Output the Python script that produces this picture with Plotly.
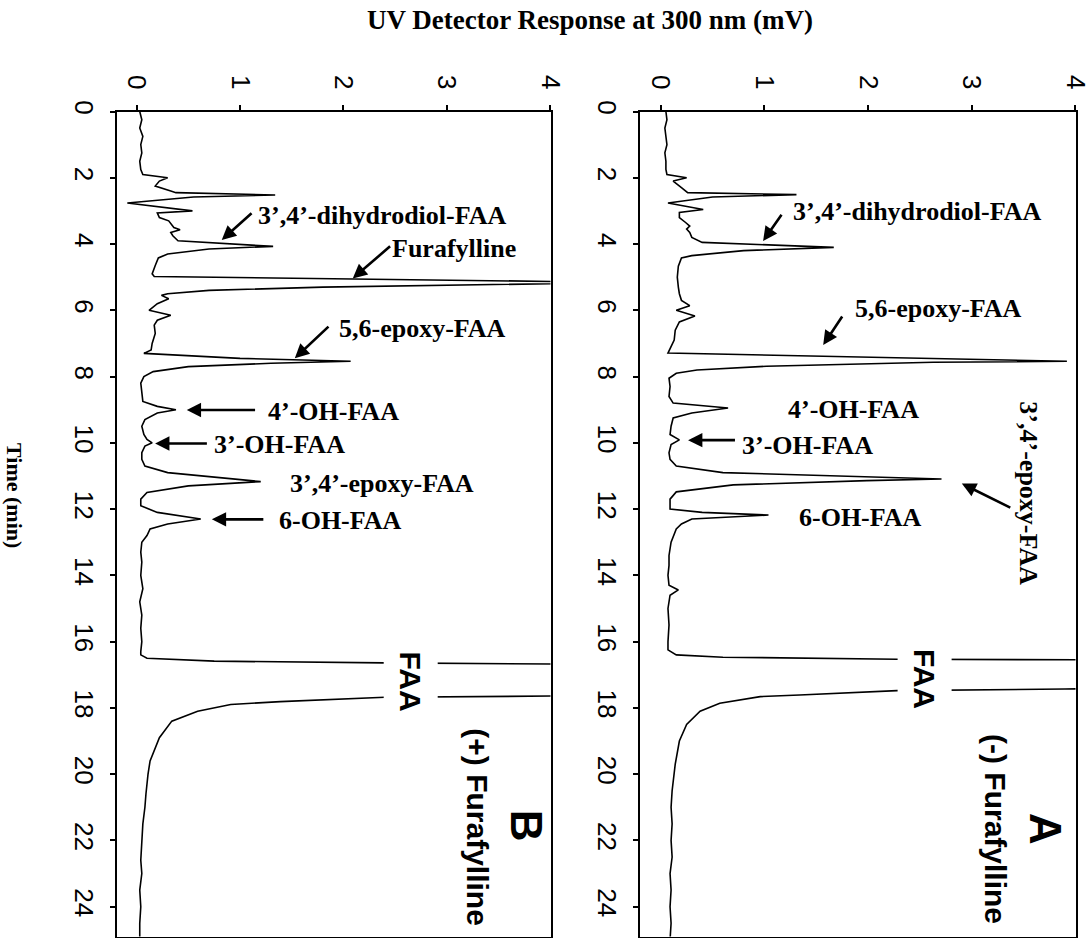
import plotly.graph_objects as go

# ---------------- data ----------------
# Panel B : (+) Furafylline  -- time (min) and UV response (mV)
time_b = [0.0, 0.25, 0.5, 0.75, 1.0, 1.25, 1.5, 1.75, 1.9, 2.0, 2.1, 2.25, 2.4, 2.45, 2.52, 2.58,
          2.76, 3.0, 3.06, 3.2, 3.3, 3.5, 3.57, 3.65, 3.75, 3.9, 4.07, 4.15, 4.3, 4.42, 4.65, 4.9,
          4.98, 5.16, 5.3, 5.4, 5.5, 5.55, 5.65, 5.8, 6.0, 6.15, 6.3, 6.45, 6.7, 7.0, 7.2, 7.3,
          7.45, 7.54, 7.6, 7.7, 7.85, 8.0, 8.2, 8.5, 8.75, 8.9, 9.0, 9.1, 9.3, 9.5, 9.75, 9.9,
          10.0, 10.1, 10.3, 10.5, 10.7, 10.9, 11.17, 11.3, 11.5, 11.7, 11.9, 12.1, 12.3, 12.45,
          12.6, 12.8, 13.0, 13.3, 13.6, 14.0, 14.4, 14.8, 15.2, 15.6, 16.0, 16.3, 16.4, 16.5,
          16.59, 16.64, 16.7, 17.1, 17.62, 17.68, 17.81, 17.9, 18.1, 18.4, 18.9, 19.6, 20.0,
          20.6, 21.0, 21.5, 22.0, 22.6, 23.0, 23.5, 24.0, 24.5, 25.0]
resp_b = [0.03, 0.05, 0.03, 0.06, 0.04, 0.05, 0.03, 0.04, 0.06, 0.30, 0.22, 0.18, 0.33, 0.38, 1.34, 0.55,
          -0.09, 0.54, 0.20, 0.22, 0.31, 0.36, 0.42, 0.33, 0.35, 0.40, 1.32, 0.70, 0.30, 0.21, 0.18, 0.15,
          0.17, 4.80, 1.80, 0.70, 0.30, 0.24, 0.31, 0.20, 0.12, 0.33, 0.20, 0.17, 0.18, 0.15, 0.14, 0.07,
          1.00, 2.07, 1.30, 0.50, 0.16, 0.07, 0.04, 0.05, 0.06, 0.20, 0.38, 0.20, 0.08, 0.05, 0.07, 0.10,
          0.15, 0.08, 0.05, 0.05, 0.08, 0.30, 1.20, 0.50, 0.10, 0.04, 0.04, 0.20, 0.62, 0.30,
          0.13, 0.10, 0.05, 0.04, 0.05, 0.04, 0.06, 0.03, 0.05, 0.04, 0.05, 0.04, 0.04, 0.10,
          0.75, 2.39, 5.00, 9.00, 5.00, 2.40, 1.39, 0.91, 0.59, 0.34, 0.22, 0.13, 0.11,
          0.09, 0.08, 0.06, 0.05, 0.04, 0.05, 0.03, 0.04, 0.03, 0.03]

# Panel A : (-) Furafylline
time_a = [0.0, 0.25, 0.5, 0.75, 1.0, 1.25, 1.5, 1.75, 1.9, 2.0, 2.1, 2.3, 2.45, 2.51, 2.58, 2.76,
          2.96, 3.05, 3.2, 3.35, 3.46, 3.55, 3.65, 3.8, 3.95, 4.1, 4.2, 4.35, 4.42, 4.67, 5.0, 5.3,
          5.5, 5.7, 5.86, 6.0, 6.17, 6.35, 6.6, 6.9, 7.1, 7.29, 7.54, 7.57, 7.69, 7.8, 7.9, 8.05,
          8.3, 8.6, 8.8, 8.95, 9.1, 9.25, 9.5, 9.75, 9.91, 10.05, 10.3, 10.5, 10.7, 10.9, 11.09,
          11.14, 11.27, 11.48, 11.7, 12.0, 12.1, 12.18, 12.3, 12.45, 12.6, 13.0, 13.4, 13.7, 14.0,
          14.3, 14.44, 14.6, 15.0, 15.5, 16.0, 16.25, 16.4, 16.47, 16.53, 16.56, 17.0, 17.4, 17.43,
          17.48, 17.61, 17.66, 17.86, 18.1, 18.5, 19.0, 19.7, 20.5, 21.0, 21.5, 22.0, 22.5, 23.0,
          23.5, 24.0, 24.5, 25.0]
resp_a = [0.05, 0.06, 0.04, 0.05, 0.06, 0.04, 0.05, 0.05, 0.06, 0.25, 0.12, 0.20, 0.26, 1.31, 0.50, 0.07,
          0.41, 0.18, 0.18, 0.24, 0.28, 0.25, 0.28, 0.30, 0.40, 1.67, 0.80, 0.30, 0.20, 0.17, 0.16, 0.17,
          0.18, 0.20, 0.28, 0.15, 0.33, 0.18, 0.14, 0.13, 0.10, 0.07, 3.92, 2.63, 1.02, 0.35, 0.15, 0.08,
          0.09, 0.08, 0.12, 0.65, 0.30, 0.12, 0.10, 0.09, 0.18, 0.10, 0.08, 0.09, 0.15, 0.60, 2.71,
          1.99, 0.70, 0.15, 0.09, 0.09, 0.40, 1.04, 0.30, 0.20, 0.15, 0.10, 0.08, 0.08, 0.07,
          0.08, 0.17, 0.09, 0.07, 0.08, 0.07, 0.07, 0.15, 0.60, 2.28, 5.00, 9.00, 4.60, 3.90,
          2.28, 1.34, 0.96, 0.57, 0.38, 0.25, 0.18, 0.14, 0.11, 0.10, 0.11, 0.10, 0.11, 0.09,
          0.10, 0.09, 0.10, 0.09]

time_ticks = [0, 2, 4, 6, 8, 10, 12, 14, 16, 18, 20, 22, 24]
resp_ticks = [0, 1, 2, 3, 4]

# peak labels: (text, x, y)
labels_b = [("3’,4’-dihydrodiol-FAA", 2.372, 3.125), ("Furafylline", 3.072, 4.15),
            ("5,6-epoxy-FAA", 2.763, 6.54), ("4’-OH-FAA", 1.903, 9.04),
            ("3’-OH-FAA", 1.377, 10.04), ("3’,4’-epoxy-FAA", 2.377, 11.22),
            ("6-OH-FAA", 1.966, 12.33)]
arrows_b = [(1.126, 3.03, 0.823, 3.88), (2.466, 4.03, 2.09, 5.04), (1.87, 6.45, 1.53, 7.45),
            (1.16, 9.01, 0.485, 9.01), (0.694, 10.02, 0.179, 10.02), (1.24, 12.31, 0.727, 12.31)]
labels_a = [("3’,4’-dihydrodiol-FAA", 2.469, 3.03), ("5,6-epoxy-FAA", 2.681, 5.96),
            ("4’-OH-FAA", 1.860, 8.98), ("3’-OH-FAA", 1.415, 10.07), ("6-OH-FAA", 1.923, 12.24)]
arrows_a = [(1.176, 3.07, 0.988, 3.91), (1.761, 6.14, 1.568, 7.05), (0.731, 9.92, 0.264, 9.92),
            (3.388, 11.98, 2.906, 11.23)]

# ---------------- figure ----------------
W, H = 1090, 938
fig = go.Figure()
fig.add_trace(go.Scatter(x=resp_b, y=time_b, mode="lines", line=dict(color="black", width=1.6),
                         xaxis="x", yaxis="y", showlegend=False, hoverinfo="skip"))
fig.add_trace(go.Scatter(x=resp_a, y=time_a, mode="lines", line=dict(color="black", width=1.6),
                         xaxis="x2", yaxis="y2", showlegend=False, hoverinfo="skip"))

tickfont = dict(family="Liberation Sans, Arial", size=26, color="black")
ydom = [1.5 / H, 1 - 111.5 / H]


def xax(domain, anchor, rng):
    return dict(domain=domain, anchor=anchor, range=rng, side="top", tickvals=resp_ticks,
                ticks="outside", ticklen=5, tickwidth=1.5, tickcolor="black", tickangle=90,
                tickfont=tickfont, showline=True, linecolor="black", linewidth=2, mirror=True,
                showgrid=False, zeroline=False, ticklabelstandoff=6, automargin=False,
                ticklabeloverflow="allow")


def yax(anchor):
    return dict(domain=ydom, anchor=anchor, range=[24.9, 0], tickvals=time_ticks,
                ticks="outside", ticklen=5, tickwidth=1.5, tickcolor="black", tickangle=90,
                tickfont=tickfont, showline=True, linecolor="black", linewidth=2, mirror=True,
                showgrid=False, zeroline=False, ticklabelstandoff=4, automargin=False,
                ticklabeloverflow="allow")


fig.update_layout(
    width=W, height=H, margin=dict(l=0, r=0, t=0, b=0, pad=0, autoexpand=False),
    paper_bgcolor="white", plot_bgcolor="white",
    xaxis=xax([117 / W, 550.5 / W], "y", [-0.19, 4.003]),
    yaxis=yax("x"),
    xaxis2=xax([640 / W, 1075.5 / W], "y2", [-0.2, 4.003]),
    yaxis2=yax("x2"),
)

serif = dict(family="Liberation Serif, Times New Roman", size=26, color="black")
sansb = dict(family="Liberation Sans, Arial", size=30, color="black")
ann = []
for xr, yr, labels, arrows in (("x", "y", labels_b, arrows_b), ("x2", "y2", labels_a, arrows_a)):
    for txt, x, y in labels:
        ann.append(dict(text="<b>%s</b>" % txt, x=x, y=y, xref=xr, yref=yr, showarrow=False,
                        font=serif, xanchor="center", yanchor="middle"))
    for tx, ty, hx, hy in arrows:
        ann.append(dict(text="", x=hx, y=hy, ax=tx, ay=ty, xref=xr, yref=yr, axref=xr, ayref=yr,
                        showarrow=True, arrowhead=2, arrowsize=1.1, arrowwidth=2.6,
                        arrowcolor="black"))

# rotated labels
ann.append(dict(text="<b>3’,4’-epoxy-FAA</b>", x=3.546, y=11.53, xref="x2", yref="y2",
                showarrow=False, textangle=90, font=serif))
ann.append(dict(text="<b>FAA</b>", x=2.652, y=17.2, xref="x", yref="y", showarrow=False,
                textangle=90, font=sansb, bgcolor="white", borderpad=10))
ann.append(dict(text="<b>FAA</b>", x=2.551, y=17.13, xref="x2", yref="y2", showarrow=False,
                textangle=90, font=sansb, bgcolor="white", borderpad=10))
ann.append(dict(text="<b>(+) Furafylline</b>", x=3.30, y=21.6, xref="x", yref="y",
                showarrow=False, textangle=90, font=sansb))
ann.append(dict(text="<b>(-) Furafylline</b>", x=3.237, y=21.66, xref="x2", yref="y2",
                showarrow=False, textangle=90, font=sansb))
ann.append(dict(text="<b>B</b>", x=3.77, y=21.57, xref="x", yref="y", showarrow=False,
                textangle=90, font=dict(family="Liberation Sans, Arial", size=44, color="black")))
ann.append(dict(text="<b>A</b>", x=3.72, y=21.66, xref="x2", yref="y2", showarrow=False,
                textangle=90, font=dict(family="Liberation Sans, Arial", size=44, color="black")))

# axis titles
ann.append(dict(text="<b>UV Detector Response at 300 nm (mV)</b>", x=590 / W, y=1 - 20 / H,
                xref="paper", yref="paper", showarrow=False, xanchor="center", yanchor="middle",
                font=dict(family="Liberation Serif, Times New Roman", size=27, color="black")))
ann.append(dict(text="<b>Time (min)</b>", x=15 / W, y=1 - 495 / H, xref="paper", yref="paper",
                showarrow=False, textangle=90, xanchor="center", yanchor="middle",
                font=dict(family="Liberation Serif, Times New Roman", size=22, color="black")))

fig.update_layout(annotations=ann)
fig.write_html("out.html", config={"displayModeBar": False},
               post_script="document.body.style.margin='0px';")
